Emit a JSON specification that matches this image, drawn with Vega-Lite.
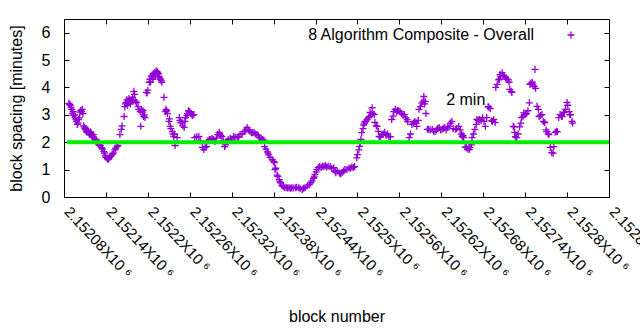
{
  "$schema": "https://vega.github.io/schema/vega-lite/v6.json",
  "width": 545,
  "height": 178,
  "autosize": {"type": "none"},
  "padding": {"left": 64, "top": 19, "right": 31, "bottom": 133},
  "background": "white",
  "config": {
    "view": {"stroke": "black", "strokeWidth": 1},
    "font": "Liberation Sans",
    "axis": {
      "grid": false,
      "domain": false,
      "tickColor": "black",
      "tickSize": -5,
      "tickWidth": 1,
      "labelFont": "Liberation Sans",
      "labelFontSize": 15,
      "labelColor": "black",
      "titleFont": "Liberation Sans",
      "titleFontSize": 16,
      "titleFontWeight": "normal",
      "titleColor": "black"
    }
  },
  "datasets": {
    "pts": [
      {"b":2152087,"v":3.42},{"b":2152088,"v":3.38},{"b":2152089,"v":3.35},{"b":2152090,"v":3.27},{"b":2152091,"v":3.2},{"b":2152092,"v":3.05},{"b":2152093,"v":3.12},{"b":2152094,"v":2.98},{"b":2152095,"v":3.0},{"b":2152096,"v":2.9},{"b":2152097,"v":2.83},{"b":2152098,"v":2.76},{"b":2152099,"v":2.65},{"b":2152100,"v":2.7},{"b":2152101,"v":2.83},{"b":2152102,"v":2.9},{"b":2152103,"v":3.1},{"b":2152104,"v":3.16},{"b":2152105,"v":3.12},{"b":2152106,"v":3.2},{"b":2152107,"v":3.05},{"b":2152108,"v":2.6},{"b":2152109,"v":2.55},{"b":2152110,"v":2.5},{"b":2152111,"v":2.45},{"b":2152112,"v":2.4},{"b":2152113,"v":2.36},{"b":2152114,"v":2.45},{"b":2152115,"v":2.4},{"b":2152116,"v":2.3},{"b":2152117,"v":2.28},{"b":2152118,"v":2.38},{"b":2152119,"v":2.32},{"b":2152120,"v":2.25},{"b":2152121,"v":2.2},{"b":2152122,"v":2.28},{"b":2152123,"v":2.15},{"b":2152124,"v":2.1},{"b":2152125,"v":2.05},{"b":2152126,"v":2.1},{"b":2152127,"v":2.0},{"b":2152129,"v":1.95},{"b":2152130,"v":1.9},{"b":2152132,"v":1.88},{"b":2152134,"v":1.8},{"b":2152135,"v":1.75},{"b":2152137,"v":1.66},{"b":2152138,"v":1.6},{"b":2152139,"v":1.5},{"b":2152140,"v":1.45},{"b":2152142,"v":1.4},{"b":2152143,"v":1.37},{"b":2152144,"v":1.4},{"b":2152145,"v":1.45},{"b":2152146,"v":1.48},{"b":2152147,"v":1.5},{"b":2152149,"v":1.55},{"b":2152151,"v":1.6},{"b":2152153,"v":1.72},{"b":2152154,"v":1.78},{"b":2152156,"v":1.84},{"b":2152157,"v":1.88},{"b":2152160,"v":2.28},{"b":2152162,"v":2.47},{"b":2152163,"v":2.6},{"b":2152166,"v":2.94},{"b":2152167,"v":3.3},{"b":2152168,"v":3.4},{"b":2152169,"v":3.45},{"b":2152170,"v":3.55},{"b":2152171,"v":3.35},{"b":2152172,"v":3.5},{"b":2152173,"v":3.6},{"b":2152174,"v":3.45},{"b":2152175,"v":3.4},{"b":2152176,"v":3.55},{"b":2152177,"v":3.5},{"b":2152178,"v":3.64},{"b":2152179,"v":3.55},{"b":2152180,"v":3.86},{"b":2152181,"v":3.75},{"b":2152182,"v":3.5},{"b":2152184,"v":3.45},{"b":2152186,"v":3.3},{"b":2152187,"v":3.2},{"b":2152189,"v":3.12},{"b":2152190,"v":2.58},{"b":2152191,"v":3.2},{"b":2152192,"v":3.09},{"b":2152193,"v":3.15},{"b":2152194,"v":2.94},{"b":2152195,"v":3.0},{"b":2152196,"v":2.9},{"b":2152198,"v":3.82},{"b":2152199,"v":3.8},{"b":2152200,"v":3.9},{"b":2152202,"v":4.19},{"b":2152203,"v":4.3},{"b":2152204,"v":4.2},{"b":2152205,"v":4.4},{"b":2152206,"v":4.45},{"b":2152207,"v":4.3},{"b":2152208,"v":4.5},{"b":2152209,"v":4.4},{"b":2152210,"v":4.55},{"b":2152211,"v":4.45},{"b":2152212,"v":4.6},{"b":2152213,"v":4.59},{"b":2152214,"v":4.55},{"b":2152215,"v":4.5},{"b":2152216,"v":4.4},{"b":2152217,"v":4.35},{"b":2152218,"v":4.3},{"b":2152219,"v":4.25},{"b":2152220,"v":4.19},{"b":2152223,"v":3.64},{"b":2152225,"v":3.12},{"b":2152226,"v":3.2},{"b":2152227,"v":3.15},{"b":2152228,"v":3.05},{"b":2152230,"v":2.76},{"b":2152231,"v":2.85},{"b":2152232,"v":2.58},{"b":2152233,"v":2.5},{"b":2152235,"v":2.39},{"b":2152236,"v":2.3},{"b":2152237,"v":2.21},{"b":2152238,"v":2.3},{"b":2152239,"v":1.88},{"b":2152242,"v":2.17},{"b":2152245,"v":2.9},{"b":2152246,"v":2.8},{"b":2152247,"v":2.72},{"b":2152249,"v":2.72},{"b":2152250,"v":2.6},{"b":2152252,"v":2.54},{"b":2152253,"v":2.76},{"b":2152254,"v":2.9},{"b":2152256,"v":2.98},{"b":2152257,"v":3.05},{"b":2152258,"v":3.15},{"b":2152260,"v":3.12},{"b":2152261,"v":3.05},{"b":2152263,"v":3.0},{"b":2152264,"v":2.98},{"b":2152266,"v":3.01},{"b":2152267,"v":2.17},{"b":2152270,"v":2.2},{"b":2152273,"v":2.21},{"b":2152275,"v":2.05},{"b":2152278,"v":1.81},{"b":2152280,"v":1.73},{"b":2152282,"v":1.81},{"b":2152284,"v":1.85},{"b":2152286,"v":2.05},{"b":2152288,"v":2.1},{"b":2152290,"v":2.1},{"b":2152292,"v":2.14},{"b":2152294,"v":2.1},{"b":2152296,"v":2.03},{"b":2152298,"v":2.15},{"b":2152300,"v":2.28},{"b":2152302,"v":2.36},{"b":2152303,"v":2.3},{"b":2152304,"v":2.25},{"b":2152306,"v":2.21},{"b":2152308,"v":2.05},{"b":2152310,"v":1.84},{"b":2152311,"v":1.9},{"b":2152313,"v":2.03},{"b":2152315,"v":2.1},{"b":2152318,"v":2.14},{"b":2152320,"v":2.08},{"b":2152323,"v":2.21},{"b":2152325,"v":2.18},{"b":2152328,"v":2.17},{"b":2152330,"v":2.2},{"b":2152332,"v":2.28},{"b":2152335,"v":2.3},{"b":2152338,"v":2.39},{"b":2152340,"v":2.45},{"b":2152342,"v":2.54},{"b":2152344,"v":2.45},{"b":2152346,"v":2.4},{"b":2152348,"v":2.35},{"b":2152350,"v":2.35},{"b":2152352,"v":2.36},{"b":2152354,"v":2.3},{"b":2152356,"v":2.28},{"b":2152358,"v":2.25},{"b":2152360,"v":2.17},{"b":2152362,"v":2.12},{"b":2152364,"v":2.1},{"b":2152366,"v":2.08},{"b":2152367,"v":1.84},{"b":2152369,"v":1.75},{"b":2152371,"v":1.65},{"b":2152372,"v":1.6},{"b":2152373,"v":1.54},{"b":2152375,"v":1.45},{"b":2152378,"v":1.36},{"b":2152380,"v":1.3},{"b":2152381,"v":1.26},{"b":2152382,"v":1.0},{"b":2152383,"v":1.05},{"b":2152385,"v":0.8},{"b":2152386,"v":0.75},{"b":2152388,"v":0.63},{"b":2152389,"v":0.55},{"b":2152390,"v":0.52},{"b":2152392,"v":0.41},{"b":2152394,"v":0.38},{"b":2152396,"v":0.34},{"b":2152398,"v":0.36},{"b":2152400,"v":0.33},{"b":2152402,"v":0.34},{"b":2152404,"v":0.32},{"b":2152406,"v":0.34},{"b":2152408,"v":0.33},{"b":2152411,"v":0.34},{"b":2152413,"v":0.36},{"b":2152416,"v":0.34},{"b":2152418,"v":0.3},{"b":2152421,"v":0.27},{"b":2152423,"v":0.32},{"b":2152425,"v":0.34},{"b":2152428,"v":0.4},{"b":2152431,"v":0.45},{"b":2152433,"v":0.52},{"b":2152435,"v":0.59},{"b":2152437,"v":0.68},{"b":2152438,"v":0.73},{"b":2152439,"v":0.82},{"b":2152441,"v":0.92},{"b":2152442,"v":1.0},{"b":2152444,"v":1.08},{"b":2152446,"v":1.11},{"b":2152448,"v":1.08},{"b":2152450,"v":1.12},{"b":2152452,"v":1.11},{"b":2152454,"v":1.15},{"b":2152456,"v":1.1},{"b":2152458,"v":1.12},{"b":2152461,"v":1.11},{"b":2152463,"v":1.05},{"b":2152466,"v":1.07},{"b":2152468,"v":0.95},{"b":2152469,"v":0.89},{"b":2152471,"v":0.95},{"b":2152474,"v":0.88},{"b":2152476,"v":0.85},{"b":2152478,"v":0.89},{"b":2152480,"v":0.95},{"b":2152482,"v":1.0},{"b":2152485,"v":1.0},{"b":2152488,"v":1.06},{"b":2152490,"v":1.05},{"b":2152492,"v":1.1},{"b":2152494,"v":1.08},{"b":2152496,"v":1.11},{"b":2152499,"v":1.43},{"b":2152500,"v":1.55},{"b":2152502,"v":1.72},{"b":2152503,"v":1.85},{"b":2152504,"v":1.98},{"b":2152505,"v":2.1},{"b":2152506,"v":2.35},{"b":2152508,"v":2.5},{"b":2152509,"v":2.63},{"b":2152510,"v":2.7},{"b":2152511,"v":2.76},{"b":2152512,"v":2.75},{"b":2152514,"v":2.83},{"b":2152516,"v":2.9},{"b":2152517,"v":2.94},{"b":2152518,"v":3.09},{"b":2152520,"v":3.0},{"b":2152521,"v":3.26},{"b":2152522,"v":3.05},{"b":2152524,"v":3.01},{"b":2152525,"v":2.72},{"b":2152527,"v":2.6},{"b":2152528,"v":2.58},{"b":2152530,"v":2.4},{"b":2152531,"v":2.21},{"b":2152533,"v":2.2},{"b":2152535,"v":2.28},{"b":2152537,"v":2.3},{"b":2152539,"v":2.36},{"b":2152541,"v":2.25},{"b":2152543,"v":2.3},{"b":2152545,"v":2.21},{"b":2152547,"v":2.2},{"b":2152549,"v":2.83},{"b":2152551,"v":2.95},{"b":2152552,"v":3.12},{"b":2152554,"v":3.2},{"b":2152556,"v":3.1},{"b":2152557,"v":3.16},{"b":2152559,"v":3.15},{"b":2152561,"v":3.12},{"b":2152563,"v":3.05},{"b":2152565,"v":3.0},{"b":2152567,"v":3.01},{"b":2152569,"v":2.9},{"b":2152571,"v":2.83},{"b":2152572,"v":2.75},{"b":2152574,"v":2.17},{"b":2152576,"v":2.3},{"b":2152578,"v":2.65},{"b":2152580,"v":2.7},{"b":2152582,"v":2.76},{"b":2152584,"v":2.7},{"b":2152585,"v":2.58},{"b":2152587,"v":2.8},{"b":2152588,"v":3.2},{"b":2152590,"v":3.3},{"b":2152592,"v":3.44},{"b":2152594,"v":3.5},{"b":2152595,"v":3.67},{"b":2152596,"v":3.4},{"b":2152597,"v":3.49},{"b":2152598,"v":3.05},{"b":2152600,"v":2.47},{"b":2152602,"v":2.47},{"b":2152604,"v":2.45},{"b":2152607,"v":2.47},{"b":2152609,"v":2.4},{"b":2152611,"v":2.39},{"b":2152613,"v":2.45},{"b":2152615,"v":2.5},{"b":2152617,"v":2.54},{"b":2152619,"v":2.45},{"b":2152621,"v":2.47},{"b":2152623,"v":2.5},{"b":2152625,"v":2.54},{"b":2152627,"v":2.45},{"b":2152629,"v":2.55},{"b":2152631,"v":2.58},{"b":2152633,"v":2.7},{"b":2152635,"v":2.76},{"b":2152637,"v":2.5},{"b":2152640,"v":2.47},{"b":2152642,"v":2.5},{"b":2152645,"v":2.58},{"b":2152647,"v":2.45},{"b":2152649,"v":2.3},{"b":2152650,"v":2.21},{"b":2152651,"v":2.25},{"b":2152652,"v":2.17},{"b":2152654,"v":1.83},{"b":2152656,"v":1.8},{"b":2152658,"v":1.75},{"b":2152660,"v":1.73},{"b":2152661,"v":1.81},{"b":2152663,"v":1.9},{"b":2152664,"v":2.17},{"b":2152666,"v":2.3},{"b":2152668,"v":2.47},{"b":2152670,"v":2.65},{"b":2152671,"v":2.83},{"b":2152673,"v":2.8},{"b":2152675,"v":2.83},{"b":2152677,"v":2.78},{"b":2152679,"v":2.9},{"b":2152681,"v":2.76},{"b":2152683,"v":2.58},{"b":2152685,"v":2.9},{"b":2152687,"v":3.3},{"b":2152688,"v":3.28},{"b":2152690,"v":3.23},{"b":2152692,"v":2.78},{"b":2152693,"v":2.76},{"b":2152695,"v":2.83},{"b":2152697,"v":2.72},{"b":2152698,"v":4.0},{"b":2152700,"v":4.11},{"b":2152702,"v":4.28},{"b":2152703,"v":4.3},{"b":2152704,"v":4.47},{"b":2152705,"v":4.4},{"b":2152707,"v":4.54},{"b":2152709,"v":4.45},{"b":2152710,"v":4.41},{"b":2152712,"v":4.35},{"b":2152714,"v":4.3},{"b":2152716,"v":4.28},{"b":2152717,"v":4.19},{"b":2152718,"v":3.93},{"b":2152720,"v":3.86},{"b":2152721,"v":3.82},{"b":2152723,"v":2.58},{"b":2152724,"v":2.56},{"b":2152725,"v":2.36},{"b":2152726,"v":2.2},{"b":2152728,"v":2.17},{"b":2152730,"v":2.3},{"b":2152732,"v":2.56},{"b":2152734,"v":2.7},{"b":2152735,"v":2.9},{"b":2152737,"v":2.95},{"b":2152738,"v":3.07},{"b":2152740,"v":3.01},{"b":2152742,"v":3.05},{"b":2152744,"v":3.15},{"b":2152746,"v":3.44},{"b":2152747,"v":4.11},{"b":2152748,"v":4.15},{"b":2152750,"v":4.19},{"b":2152751,"v":4.12},{"b":2152753,"v":4.04},{"b":2152754,"v":4.66},{"b":2152755,"v":3.97},{"b":2152757,"v":3.31},{"b":2152759,"v":3.2},{"b":2152760,"v":2.94},{"b":2152762,"v":2.98},{"b":2152764,"v":3.01},{"b":2152766,"v":2.76},{"b":2152768,"v":2.72},{"b":2152770,"v":2.45},{"b":2152771,"v":2.39},{"b":2152773,"v":2.3},{"b":2152774,"v":2.28},{"b":2152776,"v":1.81},{"b":2152778,"v":1.62},{"b":2152780,"v":1.6},{"b":2152781,"v":1.84},{"b":2152783,"v":2.36},{"b":2152785,"v":2.4},{"b":2152786,"v":2.38},{"b":2152788,"v":2.9},{"b":2152790,"v":3.01},{"b":2152792,"v":2.95},{"b":2152793,"v":2.94},{"b":2152795,"v":3.07},{"b":2152796,"v":3.1},{"b":2152798,"v":3.2},{"b":2152800,"v":3.45},{"b":2152801,"v":3.35},{"b":2152803,"v":3.12},{"b":2152804,"v":3.0},{"b":2152805,"v":3.01},{"b":2152807,"v":2.76},{"b":2152808,"v":2.7}
    ],
    "ref": [{"x": 2152084, "x2": 2152860, "y": 2}],
    "notes": [{"x": 2152655, "y": 3.55, "t": "2 min"}]
  },
  "layer": [
    {
      "data": {"name": "pts"},
      "mark": {"type": "point", "shape": "M-1,0H1M0,-1V1", "filled": false, "strokeWidth": 1.3, "size": 49, "opacity": 1, "clip": true},
      "encoding": {
        "x": {
          "field": "b", "type": "quantitative",
          "scale": {"domain": [2152080, 2152860], "nice": false, "zero": false},
          "axis": {
            "orient": "bottom",
            "title": "block number",
            "values": [2152080, 2152140, 2152200, 2152260, 2152320, 2152380, 2152440, 2152500, 2152560, 2152620, 2152680, 2152740, 2152800, 2152860],
            "labelExpr": "format(datum.value / 1000000, '.5~f') + 'X10 ⁶'",
            "labelAngle": 47,
            "labelAlign": "left",
            "labelBaseline": "alphabetic",
            "labelPadding": 20,
            "labelOffset": -1,
            "labelOverlap": false,
            "labelFlush": false,
            "labelLimit": 300,
            "titleBaseline": "middle",
            "titleY": 119
          }
        },
        "y": {
          "field": "v", "type": "quantitative",
          "scale": {"domain": [0, 6.5], "nice": false, "zero": false},
          "axis": {
            "orient": "left",
            "title": "block spacing [minutes]",
            "values": [0, 1, 2, 3, 4, 5, 6],
            "labelFontSize": 16,
            "labelPadding": 19,
            "titlePadding": 17
          }
        },
        "color": {
          "datum": "8 Algorithm Composite - Overall",
          "type": "nominal",
          "scale": {"range": ["#9400d3"]},
          "legend": {
            "orient": "none",
            "legendX": 499,
            "legendY": 8,
            "title": null,
            "padding": 0,
            "labelAlign": "right",
            "labelOffset": -45,
            "labelLimit": 400,
            "labelFont": "Liberation Sans",
            "labelFontSize": 16,
            "labelColor": "black",
            "symbolType": "M-1,0H1M0,-1V1",
            "symbolSize": 49,
            "symbolStrokeWidth": 1.3,
            "symbolFillColor": "transparent",
            "symbolStrokeColor": "#9400d3"
          }
        }
      }
    },
    {
      "data": {"name": "ref"},
      "mark": {"type": "rule", "color": "#00ee00", "strokeWidth": 4},
      "encoding": {
        "x": {"field": "x", "type": "quantitative", "axis": {"orient": "top", "title": null, "labels": false, "values": [2152080, 2152140, 2152200, 2152260, 2152320, 2152380, 2152440, 2152500, 2152560, 2152620, 2152680, 2152740, 2152800, 2152860]}},
        "x2": {"field": "x2"},
        "y": {"field": "y", "type": "quantitative", "axis": {"orient": "right", "title": null, "labels": false, "values": [0, 1, 2, 3, 4, 5, 6]}}
      }
    },
    {
      "data": {"name": "notes"},
      "mark": {"type": "text", "font": "Liberation Sans", "fontSize": 16, "color": "black", "align": "center", "baseline": "middle"},
      "encoding": {
        "x": {"field": "x", "type": "quantitative", "axis": null},
        "y": {"field": "y", "type": "quantitative", "axis": null},
        "text": {"field": "t"}
      }
    }
  ],
  "resolve": {"axis": {"x": "independent", "y": "independent"}}
}
